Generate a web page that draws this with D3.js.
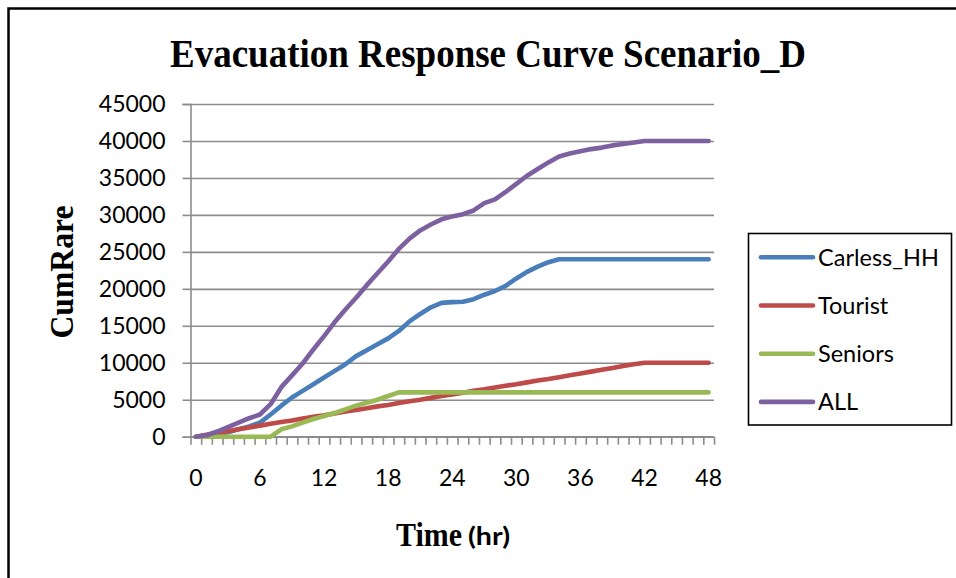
<!DOCTYPE html>
<html>
<head>
<meta charset="utf-8">
<script src="https://cdn.jsdelivr.net/npm/d3@7"></script>
<style>
  html, body { margin: 0; padding: 0; background: #fff; }
  svg { display: block; }
</style>
</head>
<body>
<svg id="chart" width="956" height="578"></svg>
<script>
// Hours since the evacuation order (category axis)
const hours = [0,1,2,3,4,5,6,7,8,9,10,11,12,13,14,15,16,17,18,19,20,21,22,23,24,
               25,26,27,28,29,30,31,32,33,34,35,36,37,38,39,40,41,42,43,44,45,46,47,48];
const hourLabels = [0,6,12,18,24,30,36,42,48];
const yTicks = [0,5000,10000,15000,20000,25000,30000,35000,40000,45000];

// Cumulative evacuees per group
const carlessHH = [0,150,300,600,1000,1400,1900,3000,4200,5300,6200,7100,8000,8900,9800,10900,11700,12500,13300,14300,
                   15600,16600,17500,18100,18200,18250,18600,19200,19700,20400,21400,22300,23000,23600,24000,24000,
                   24000,24000,24000,24000,24000,24000,24000,24000,24000,24000,24000,24000,24000];
const tourist = [0,250,500,750,1000,1250,1500,1750,2000,2200,2450,2700,2900,3150,3400,3600,3850,4100,4300,4550,
                 4800,5000,5250,5500,5700,5950,6200,6400,6650,6900,7100,7350,7600,7800,8050,8300,8550,8800,9050,
                 9300,9550,9800,10000,10000,10000,10000,10000,10000,10000];
const seniors = [0,0,0,0,0,0,0,0,1000,1400,1900,2400,2800,3200,3700,4200,4600,5000,5500,6000,
                 6000,6000,6000,6000,6000,6000,6000,6000,6000,6000,6000,6000,6000,6000,6000,6000,6000,6000,6000,
                 6000,6000,6000,6000,6000,6000,6000,6000,6000,6000];
const allGroups = [0,200,700,1300,1900,2500,3000,4400,6700,8300,9900,11800,13600,15500,17200,18800,20500,22100,23700,25400,
                   26800,27900,28700,29400,29800,30100,30600,31600,32100,33100,34200,35300,36200,37100,37900,38300,
                   38600,38900,39100,39400,39600,39800,40000,40000,40000,40000,40000,40000,40000];

const seriesNames = ["Carless_HH", "Tourist", "Seniors", "ALL"];
const seriesValues = [carlessHH, tourist, seniors, allGroups];
const seriesColors = ["#4a7ebb", "#be4b48", "#98b954", "#7d60a0"];

const svg = d3.select("#chart");
const serif = "'Liberation Serif', 'Times New Roman', serif";
const sans = "Lato, 'Open Sans', sans-serif";

// outer chart frame
svg.append("rect")
  .attr("x", 8.5).attr("y", 8.5)
  .attr("width", 1000).attr("height", 1000)
  .attr("fill", "none").attr("stroke", "#000").attr("stroke-width", 2.5);

const plot = { left: 190.5, right: 714, top: 104, bottom: 436.7 };

const x = d3.scaleBand().domain(hours).range([plot.left, plot.right]).paddingInner(0).paddingOuter(0);
const xEdge = d3.scaleLinear().domain([0, hours.length]).range([plot.left, plot.right]);
const y = d3.scaleLinear().domain([0, 45000]).range([plot.bottom, plot.top]);
const cx = h => x(h) + x.bandwidth() / 2;

const gridColor = "#8c8c8c";

// horizontal gridlines
svg.append("g")
  .attr("transform", `translate(${plot.left},0)`)
  .call(d3.axisLeft(y).tickValues(yTicks).tickSize(-(plot.right - plot.left)).tickFormat(""))
  .call(g => g.select(".domain").remove())
  .call(g => g.selectAll("line").attr("stroke", gridColor).attr("stroke-width", 1.6));

// y axis with outward ticks and labels
const yAxis = svg.append("g")
  .attr("transform", `translate(${plot.left},0)`)
  .call(d3.axisLeft(y).tickValues(yTicks).tickSize(8).tickPadding(17).tickFormat(d3.format("d")));
yAxis.select(".domain").attr("stroke", gridColor).attr("stroke-width", 1.6);
yAxis.selectAll("line").attr("stroke", gridColor).attr("stroke-width", 1.6);
yAxis.selectAll("text")
  .attr("font-family", sans).attr("font-size", 23).attr("fill", "#000");

// x axis: ticks at every category boundary
const xAxis = svg.append("g")
  .attr("transform", `translate(0,${plot.bottom})`)
  .call(d3.axisBottom(xEdge).tickValues(d3.range(0, hours.length + 1)).tickSize(8).tickFormat(""));
xAxis.select(".domain").attr("stroke", gridColor).attr("stroke-width", 1.6).attr("d", `M${plot.left},0H${plot.right}`);
xAxis.selectAll("line").attr("stroke", gridColor).attr("stroke-width", 1.6);

// x labels every 6 hours, centred on the category
const xLab = svg.append("g")
  .attr("transform", `translate(0,${plot.bottom})`)
  .call(d3.axisBottom(x).tickValues(hourLabels).tickSize(0).tickPadding(33));
xLab.select(".domain").remove();
xLab.selectAll("text")
  .attr("font-family", sans).attr("font-size", 23).attr("fill", "#000");

// series lines
const line = d3.line().x((d, i) => cx(hours[i])).y(d => y(d));
seriesValues.forEach((vals, i) => {
  svg.append("path")
    .datum(vals)
    .attr("d", line)
    .attr("fill", "none")
    .attr("stroke", seriesColors[i])
    .attr("stroke-width", 4.6)
    .attr("stroke-linecap", "round")
    .attr("stroke-linejoin", "round");
});

// title (narrow bold serif)
svg.append("text")
  .attr("x", 170).attr("y", 67)
  .attr("font-family", serif)
  .attr("font-weight", "bold").attr("font-size", 39)
  .attr("textLength", 636).attr("lengthAdjust", "spacingAndGlyphs")
  .text("Evacuation Response Curve Scenario_D");

// y axis title
svg.append("text")
  .attr("transform", "translate(73,272) rotate(-90)")
  .attr("text-anchor", "middle")
  .attr("font-family", serif)
  .attr("font-weight", "bold").attr("font-size", 34)
  .attr("textLength", 133).attr("lengthAdjust", "spacingAndGlyphs")
  .text("CumRare");

// x axis title
svg.append("text")
  .attr("x", 396).attr("y", 546)
  .attr("font-family", serif)
  .attr("font-weight", "bold").attr("font-size", 33)
  .attr("textLength", 66).attr("lengthAdjust", "spacingAndGlyphs")
  .text("Time");
svg.append("text")
  .attr("x", 468).attr("y", 545)
  .attr("font-family", sans)
  .attr("font-weight", "bold").attr("font-size", 24)
  .attr("textLength", 42).attr("lengthAdjust", "spacingAndGlyphs")
  .text("(hr)");

// legend
const legend = svg.append("g");
legend.append("rect")
  .attr("x", 748.5).attr("y", 233.5).attr("width", 203).attr("height", 191.5)
  .attr("fill", "#fff").attr("stroke", "#000").attr("stroke-width", 1.6);
seriesNames.forEach((name, i) => {
  const ly = 257.3 + i * 48.2;
  legend.append("line")
    .attr("x1", 761).attr("x2", 813).attr("y1", ly).attr("y2", ly)
    .attr("stroke", seriesColors[i]).attr("stroke-width", 4.6).attr("stroke-linecap", "round");
  legend.append("text")
    .attr("x", 818).attr("y", ly).attr("dy", "0.36em")
    .attr("font-family", sans).attr("font-size", 23.5)
    .text(name);
});
</script>
</body>
</html>
